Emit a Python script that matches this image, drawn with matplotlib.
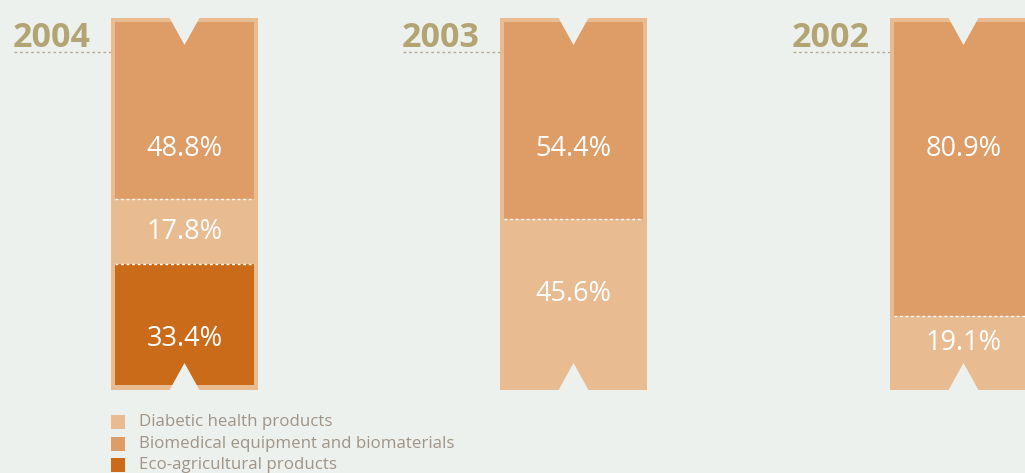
import matplotlib.pyplot as plt
from matplotlib.patches import Rectangle, Polygon

# data
years = ["2004", "2003", "2002"]
categories = ["Diabetic health products",
              "Biomedical equipment and biomaterials",
              "Eco-agricultural products"]
# shares per year, listed bottom -> top of each bar
stacks = {
    "2004": [("Eco-agricultural products", 33.4),
             ("Diabetic health products", 17.8),
             ("Biomedical equipment and biomaterials", 48.8)],
    "2003": [("Diabetic health products", 45.6),
             ("Biomedical equipment and biomaterials", 54.4)],
    "2002": [("Diabetic health products", 19.1),
             ("Biomedical equipment and biomaterials", 80.9)],
}

# style / layout
W, H = 1025, 473
BG = "#EDF1EE"
catCol = {"Diabetic health products": "#E8BB91",
          "Biomedical equipment and biomaterials": "#DE9C67",
          "Eco-agricultural products": "#C96B19"}
yearCol = "#B3A474"
legendCol = "#A09484"
centers = [184.5, 573.5, 963.5]   # pixel x of each bar
BAR_W = 139
TOP_PX, BOT_PX = 22, 385          # inner bar in pixels
PX = (BOT_PX - TOP_PX) / 100.0    # pixels per percent
# label y position in pixels, same order as stacks (bottom -> top)
labelPx = {"2004": [339, 232, 149], "2003": [294, 149], "2002": [343, 149]}

plt.rcParams["font.family"] = ["Open Sans", "DejaVu Sans"]
fig = plt.figure(figsize=(W / 100, H / 100), dpi=100, facecolor=BG)

# overlay in pixel coords for text, guides and legend
ov = fig.add_axes([0, 0, 1, 1])
ov.set_xlim(0, W)
ov.set_ylim(H, 0)
ov.axis("off")
ov.set_facecolor(BG)

# bars axis: y in percent
ax = fig.add_axes([0, (H - BOT_PX) / H, 1, (BOT_PX - TOP_PX) / H])
ax.set_xlim(0, W)
ax.set_ylim(0, 100)
ax.axis("off")
ax.patch.set_alpha(0)

def pct(py):
    return (BOT_PX - py) / PX

for yr, c in zip(years, centers):
    # outer frame
    ax.add_patch(Rectangle((c - 73.5, pct(390)), 147, pct(18) - pct(390),
                           facecolor=catCol["Diabetic health products"],
                           edgecolor="none", zorder=1, clip_on=False))
    bottom = 0
    segs = stacks[yr]
    for i, (cat, v) in enumerate(segs):
        ax.bar(c, v, bottom=bottom, width=BAR_W, color=catCol[cat], zorder=2)
        if i > 0:
            ax.hlines(bottom, c - BAR_W / 2, c + BAR_W / 2, colors="white",
                      linestyles=(0, (2, 2)), linewidth=1, zorder=3)
        ax.text(c, pct(labelPx[yr][i]), f"{v:.1f}%", color="white",
                fontsize=19.5, ha="center", va="center", zorder=4)
        bottom += v
    # notches
    ax.add_patch(Polygon([(c - 15.5, pct(17)), (c + 15.5, pct(17)), (c, pct(45))],
                         closed=True, facecolor=BG, edgecolor="none",
                         zorder=5, clip_on=False))
    ax.add_patch(Polygon([(c - 15.5, pct(391)), (c + 15.5, pct(391)), (c, pct(363))],
                         closed=True, facecolor=BG, edgecolor="none",
                         zorder=5, clip_on=False))
    # year label and guide line
    ov.text(c - 94, 47, yr, color=yearCol, fontsize=24.5, fontweight="bold",
            ha="right", va="baseline")
    ov.plot([c - 170.5, c - 73.5], [52, 52], color="#B9A98F",
            linestyle=(0, (2, 2)), linewidth=1)

# legend
for i, cat in enumerate(categories):
    y = 422 + i * 21.5
    ov.add_patch(Rectangle((111, y - 7), 14, 14, facecolor=catCol[cat],
                           edgecolor="none"))
    ov.text(139, y, cat, color=legendCol, fontsize=12.2, ha="left",
            va="center")

fig.savefig("out.png", dpi=100, facecolor=BG)
